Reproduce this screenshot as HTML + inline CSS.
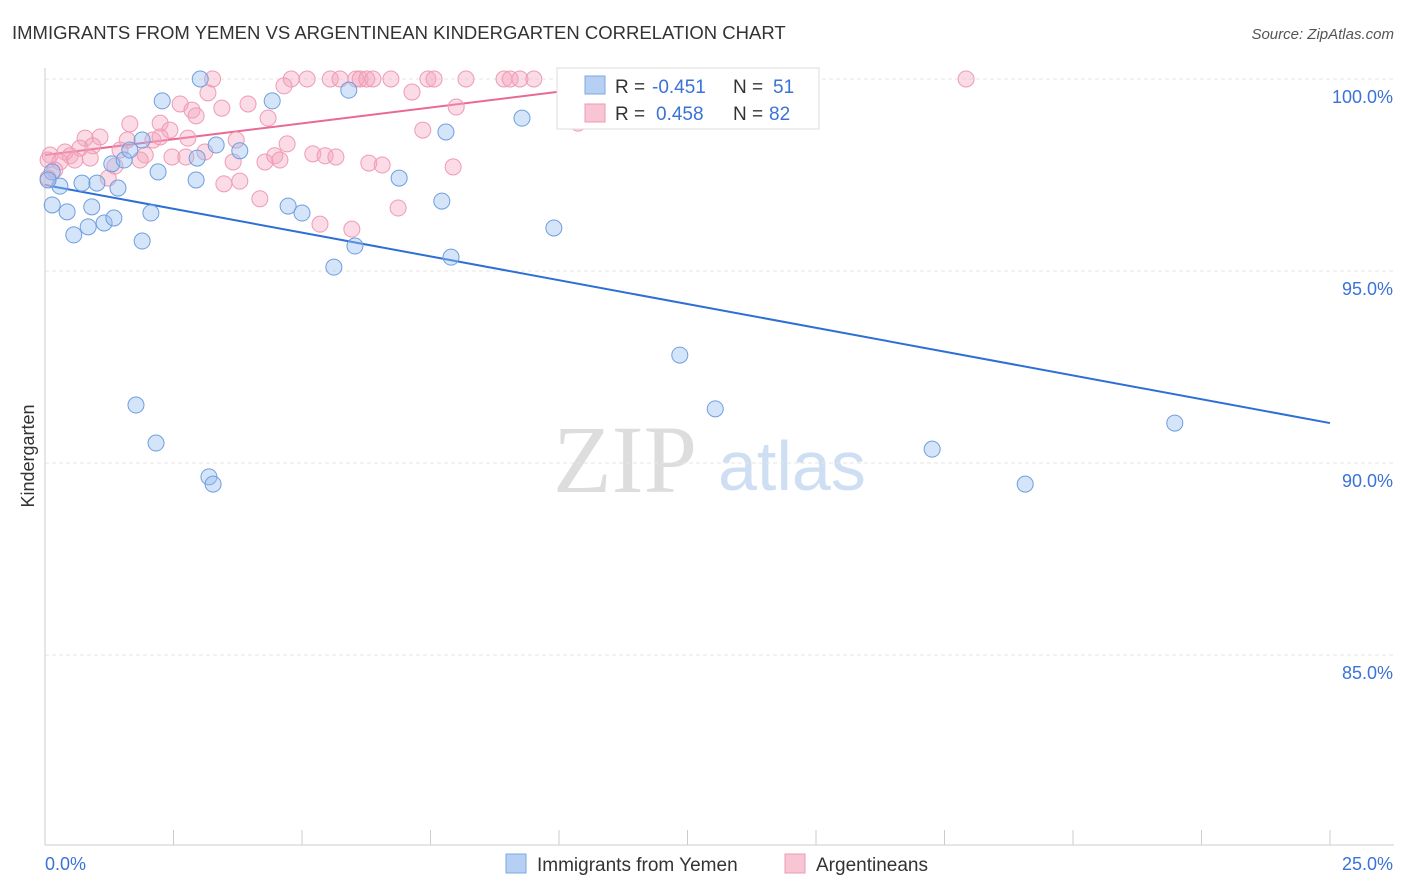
<!DOCTYPE html>
<html><head><meta charset="utf-8"><style>
body{margin:0;background:#fff;font-family:"Liberation Sans",sans-serif}
svg{display:block}
</style></head><body>
<svg id="chart" width="1406" height="892" xmlns="http://www.w3.org/2000/svg">
<text x="12" y="39" font-size="18.5" fill="#333">IMMIGRANTS FROM YEMEN VS ARGENTINEAN KINDERGARTEN CORRELATION CHART</text>
<text x="1394" y="39" font-size="15" fill="#555" text-anchor="end" font-style="italic">Source: ZipAtlas.com</text>
<g>
<text x="553" y="492" font-size="96" font-family="Liberation Serif,serif" fill="#ddd">ZIP</text>
<text x="718" y="490" font-size="70" fill="#cfdff3">atlas</text>
</g>
<g id="grid"></g>
<g id="axes"></g>
<g id="lines"></g>
<g id="pts"></g>
<text x="34" y="456" font-size="18" fill="#333" transform="rotate(-90 34 456)" text-anchor="middle">Kindergarten</text>
<g font-size="19">
<rect x="557" y="68" width="262" height="61" fill="#fff" stroke="#ddd"/>
<rect x="585" y="76" width="20" height="18" fill="#b5d0f3" stroke="#7ea9e2"/>
<text x="615" y="93" fill="#333">R =</text>
<text x="652" y="93" fill="#3a72d8">-0.451</text>
<text x="733" y="93" fill="#333">N =</text>
<text x="773" y="93" fill="#3a72d8">51</text>
<rect x="585" y="104" width="20" height="18" fill="#f8c5d4" stroke="#ec9ab4"/>
<text x="615" y="120" fill="#333">R =</text>
<text x="656" y="120" fill="#3a72d8">0.458</text>
<text x="733" y="120" fill="#333">N =</text>
<text x="769" y="120" fill="#3a72d8">82</text>
</g>
<g>
<rect x="506" y="854" width="20" height="19" fill="#b5d0f3" stroke="#7ea9e2"/>
<text x="537" y="871" font-size="19" fill="#333">Immigrants from Yemen</text>
<rect x="785" y="854" width="20" height="19" fill="#f8c5d4" stroke="#ec9ab4"/>
<text x="816" y="871" font-size="19" fill="#333">Argentineans</text>
</g>
</svg>
<script>
const yTicks=[100,95,90,85];
const yTickLabels=["100.0%","95.0%","90.0%","85.0%"];
const xTickCount=10;
const xLabels=["0.0%","25.0%"];
const blueX=[3.02,2.28,4.42,5.91,0.14,0.29,0.14,0.43,0.56,0.72,0.91,0.84,1.01,1.15,1.34,1.30,1.42,1.54,1.65,1.89,1.89,2.06,2.20,2.94,2.96,3.33,3.79,4.73,5.00,5.62,6.03,6.89,7.80,7.72,7.90,9.28,9.90,12.35,1.77,2.16,3.19,3.27,13.04,17.26,19.07,21.98,12.35,0.06];
const blueY=[100,99.43,99.43,99.71,97.58,97.21,96.72,96.54,95.94,97.29,96.67,96.15,97.29,96.25,96.38,97.79,97.16,97.89,98.15,98.41,95.78,96.51,97.58,97.37,97.94,98.28,98.13,96.69,96.51,95.10,95.65,97.42,98.62,96.82,95.36,98.98,96.12,92.81,91.51,90.52,89.64,89.45,91.41,90.36,89.45,91.04,99.35,97.37];
const pinkX=[3.26,4.79,5.10,5.55,5.74,6.05,6.13,6.26,6.38,6.73,7.45,7.57,8.19,8.93,9.05,9.24,9.51,17.92,4.65,3.17,7.14,2.63,3.95,8.00,2.86,3.44,4.34,2.94,1.65,2.24,2.43,2.10,1.60,1.07,0.78,0.93,0.68,0.39,0.49,0.10,0.06,0.29,0.58,0.88,1.46,1.95,2.47,2.74,3.11,3.72,3.66,4.28,4.47,4.57,4.71,5.21,5.45,5.66,6.30,6.56,7.94,7.35,10.37,4.18,3.79,3.48,5.35,5.97,6.87,1.23,1.36,1.85,2.78,2.24,0.19,0.06];
const pinkY=[100,100,100,100,100,100,100,100,100,100,100,100,100,100,100,100,100,100,99.82,99.64,99.66,99.35,99.35,99.27,99.19,99.24,98.98,99.04,98.83,98.85,98.67,98.41,98.41,98.49,98.46,98.26,98.20,98.10,98.00,98.02,97.89,97.84,97.89,97.94,98.15,98.02,97.97,97.97,98.10,98.41,97.84,97.84,98.00,97.89,98.31,98.05,98.00,97.97,97.81,97.76,97.71,98.67,98.85,96.88,97.34,97.27,96.22,96.09,96.64,97.42,97.73,97.89,98.46,98.49,97.63,97.42];
const blueTrendX=[0,25], blueTrendY=[97.24,91.04];
const pinkTrendX=[0,10.8], pinkTrendY=[98.02,99.8];
const NS="http://www.w3.org/2000/svg";
const X=v=>45+v/25*1285, Y=v=>79+(100-v)*38.4;
function mk(t,a,p){const e=document.createElementNS(NS,t);for(const k in a)e.setAttribute(k,a[k]);p.appendChild(e);return e;}
const grid=document.getElementById('grid'),axes=document.getElementById('axes');
yTicks.forEach((v,i)=>{
 const l=mk('line',{x1:45,x2:1394,y1:Y(v),y2:Y(v),stroke:'#e6e6e6','stroke-dasharray':'4,3'},grid);
 
 
 const t=mk('text',{x:1393,y:Y(v)+24,'font-size':18,fill:'#3a72d8','text-anchor':'end'},axes);
 t.textContent=yTickLabels[i];
 
 
});
mk('line',{x1:45,x2:45,y1:68,y2:845,stroke:'#ccc'},axes);
mk('line',{x1:45,x2:1394,y1:845,y2:845,stroke:'#ccc'},axes);
for(let i=0;i<=xTickCount;i++){const x=X(i*25/xTickCount);const t=mk('line',{x1:x,x2:x,y1:830,y2:845,stroke:'#ccc'},axes);
 
 }
[[0,'start',45],[1,'end',1393]].forEach(([i,a,x])=>{const t=mk('text',{x:x,y:870,'font-size':18,fill:'#3a72d8','text-anchor':a},axes);t.textContent=xLabels[i];
 
 });
const pts=document.getElementById('pts');
pinkX.forEach((v,i)=>{const c=mk('circle',{cx:X(v),cy:Y(pinkY[i]),r:8,fill:'rgba(245,165,190,0.4)',stroke:'#ef9bb5','stroke-width':1},pts);
 
 });
blueX.forEach((v,i)=>{const c=mk('circle',{cx:X(v),cy:Y(blueY[i]),r:8,fill:'rgba(150,190,240,0.4)',stroke:'#6f9edf','stroke-width':1},pts);
 
 });
const lines=document.getElementById('lines');
const bl=mk('line',{x1:X(blueTrendX[0]),y1:Y(blueTrendY[0]),x2:X(blueTrendX[1]),y2:Y(blueTrendY[1]),stroke:'#2d6fd6','stroke-width':2},lines);


const pl=mk('line',{x1:X(pinkTrendX[0]),y1:Y(pinkTrendY[0]),x2:X(pinkTrendX[1]),y2:Y(pinkTrendY[1]),stroke:'#e86a94','stroke-width':2},lines);


</script>
</body></html>
